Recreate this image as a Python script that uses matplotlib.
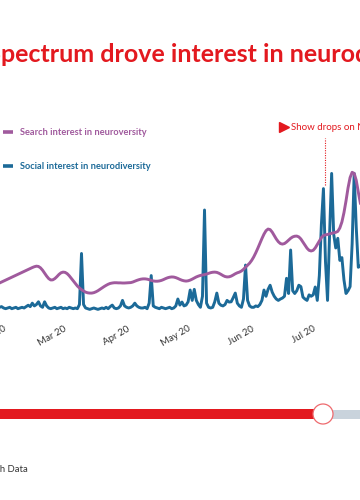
import matplotlib
matplotlib.use("Agg")
import matplotlib.pyplot as plt
import matplotlib.dates as mdates
from matplotlib.patches import Rectangle, Circle
import pandas as pd

# daily index, search (Google) vs social mentions, 0-100
dates = pd.date_range("2020-01-30", periods=177, freq="D")

search = [
    19.6, 20.3, 21.0, 21.7, 22.4, 23.1, 23.8, 24.5, 25.2, 25.9,
    26.6, 27.3, 28.0, 28.7, 29.4, 30.1, 30.8, 31.4, 31.8, 31.6,
    30.6, 28.9, 26.8, 24.6, 22.8, 21.8, 21.9, 22.8, 24.2, 25.8,
    27.0, 27.5, 27.3, 26.4, 24.9, 23.0, 21.0, 19.1, 17.4, 16.0,
    14.8, 13.8, 13.0, 12.5, 12.3, 12.3, 12.6, 13.2, 14.0, 15.0,
    16.0, 17.0, 17.9, 18.7, 19.3, 19.6, 19.8, 19.8, 19.7, 19.7,
    19.6, 19.6, 19.7, 19.8, 19.9, 20.3, 20.9, 21.5, 22.0, 22.4,
    22.6, 22.6, 22.4, 22.0, 21.5, 21.1, 20.9, 20.9, 21.1, 21.5,
    22.1, 22.8, 23.4, 23.8, 24.0, 23.9, 23.5, 22.9, 22.2, 21.6,
    21.2, 21.0, 21.2, 21.7, 22.4, 23.2, 24.0, 24.6, 25.1, 25.4,
    25.7, 26.1, 26.6, 27.1, 27.4, 27.5, 27.3, 26.7, 25.9, 25.0,
    24.3, 24.0, 24.1, 24.6, 25.4, 26.3, 27.0, 27.5, 28.3, 29.5,
    31.0, 32.5, 34.0, 36.0, 38.5, 41.5, 44.8, 48.3, 51.8, 55.0,
    57.5, 58.7, 58.3, 56.5, 54.0, 51.5, 49.5, 48.2, 47.8, 48.2,
    49.3, 50.7, 52.0, 53.0, 53.5, 53.6, 53.0, 51.5, 49.3, 47.0,
    44.8, 43.3, 42.8, 43.3, 45.0, 47.5, 50.0, 52.5, 54.0, 54.5,
    54.8, 55.2, 55.6, 56.0, 56.3, 57.0, 59.5, 63.8, 70.5, 79.0,
    88.5, 96.0, 99.8, 99.0, 94.0, 85.5, 77.5,
]

social = [
    2, 2.5, 1.5, 1, 1.5, 2, 1, 1.5, 2, 1,
    1.5, 2, 1.5, 2.5, 3.5, 2.5, 5, 3, 4, 6,
    3, 2, 6, 3, 1.5, 1, 1.5, 2, 1, 1.5,
    2, 1, 1.5, 1, 2, 1.5, 1, 1.5, 1, 4,
    41, 4, 1.5, 1, 0.5, 1, 1.5, 1, 0.5, 1,
    1.5, 1, 2, 1, 2.5, 3.6, 1.5, 1, 1.5, 3,
    7, 3, 2, 1.5, 2, 3, 5, 3, 2, 1.5,
    1.5, 2, 1, 5, 25, 3, 2, 1.5, 1, 2,
    1.5, 1, 1.5, 2, 1, 1.5, 3, 8, 3.6, 5.8,
    3, 3.6, 6, 14.5, 7, 15, 7, 4, 2, 10,
    72.5, 5, 2, 1.5, 2, 6, 12.3, 5, 3.5, 3,
    4, 7, 5.8, 6, 9, 12.3, 5, 3, 2, 8,
    32.6, 7, 3, 2, 2, 3, 2.5, 4, 7, 14.5,
    10, 15, 18, 13, 10, 8, 7, 8, 8.7, 10,
    23, 12, 43.5, 14, 12, 14, 18, 17, 9.4, 8,
    7, 11, 10, 11, 16.7, 7, 25, 62, 88, 35,
    7, 55, 99, 55, 45, 52, 36, 38, 22, 12,
    14, 17, 48, 99, 60, 31, 32,
]

netflix_date = pd.Timestamp("2020-07-06 14:00")
title = "Love on the Spectrum drove interest in neurodiversity"
source = "Source: Google Trends, Brandwatch Data"

RED = "#e3191f"
PURPLE = "#a05a9d"
BLUE = "#1c6a98"
GREY = "#c9d3dc"

plt.rcParams["font.family"] = ["Lato", "DejaVu Sans"]

fig = plt.figure(figsize=(3.6, 5.0), dpi=100)

ax = fig.add_axes([0, 1 - 320 / 500, 1, 220 / 500])
ax.plot(dates, social, color=BLUE, lw=2.1, zorder=2)
ax.plot(dates, search, color=PURPLE, lw=2.1, zorder=3)
ax.vlines(netflix_date, 90.6, 124.6, colors=RED, linestyles=(0, (1, 1.2)), lw=0.8)

ax.set_xlim(dates[0] + pd.Timedelta(hours=6), dates[0] + pd.Timedelta(hours=4220))
ax.set_ylim(-7.2, 152.2)
ax.xaxis.set_major_locator(mdates.MonthLocator())
ax.xaxis.set_major_formatter(mdates.DateFormatter("%b %y"))
ax.tick_params(axis="x", length=0, pad=3, labelsize=7, labelcolor="#333333")
for lab in ax.get_xticklabels():
    lab.set_rotation(30)
    lab.set_ha("right")
    lab.set_rotation_mode("anchor")
ax.set_yticks([])
for s in ax.spines.values():
    s.set_visible(False)
ax.patch.set_alpha(0)

# overlay in pixel units for title, legend, slider
ov = fig.add_axes([0, 0, 1, 1], zorder=-1)
ov.set_xlim(0, 360)
ov.set_ylim(500, 0)
ov.axis("off")

r = fig.canvas.get_renderer()
tmp = ov.text(0, 0, "Love on the S", fontsize=18, fontweight="bold")
w = tmp.get_window_extent(renderer=r).width
tmp.remove()
ov.text(-w + 1, 54, title, fontsize=18, fontweight="bold", color=RED, va="center")

ov.plot([3, 13], [132, 132], color=PURPLE, lw=2.6, solid_capstyle="butt")
ov.text(20, 132.5, "Search interest in neuroversity", color=PURPLE, fontsize=6.7,
        fontweight="bold", va="center")
ov.plot([3, 13], [166, 166], color=BLUE, lw=2.6, solid_capstyle="butt")
ov.text(20, 166.5, "Social interest in neurodiversity", color=BLUE, fontsize=6.7,
        fontweight="bold", va="center")

ov.plot(284, 127, marker=">", ms=7, color=RED, mec=RED)
ov.text(291, 127.5, "Show drops on Netflix", color=RED, fontsize=7.0, va="center")

ov.add_patch(Rectangle((0, 409), 318, 10, color=RED, lw=0))
ov.add_patch(Rectangle((330, 409.5), 40, 9, color=GREY, lw=0))
ov.add_patch(Circle((323, 414), 10, facecolor="white", edgecolor="#ee6a6e", lw=0.9, zorder=5))

ov.text(28, 470, source, ha="right", va="center", fontsize=6.8, color="#333333")

fig.savefig("out.png", dpi=100)
